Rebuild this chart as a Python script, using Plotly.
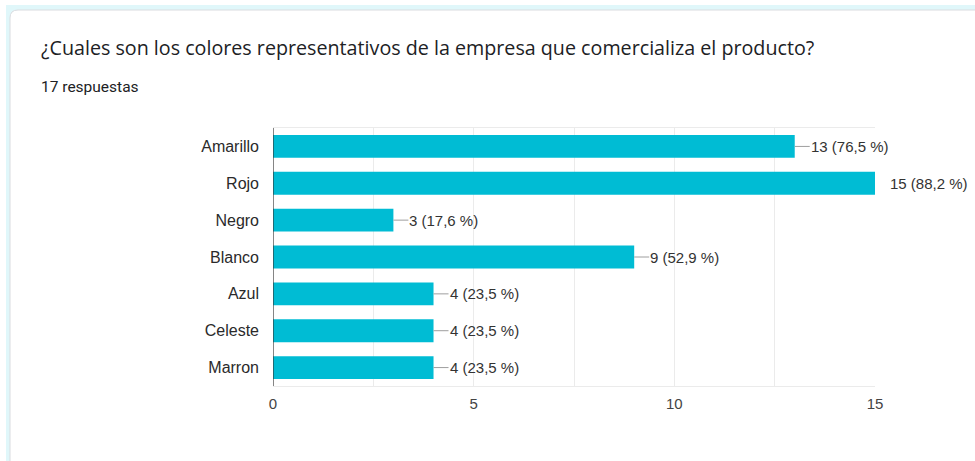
import plotly.graph_objects as go

categories = ["Amarillo", "Rojo", "Negro", "Blanco", "Azul", "Celeste", "Marron"]
counts = [13, 15, 3, 9, 4, 4, 4]
percents = ["76,5", "88,2", "17,6", "52,9", "23,5", "23,5", "23,5"]
title_text = "¿Cuales son los colores representativos de la empresa que comercializa el producto?"
subtitle_text = "17 respuestas"

W, H = 975, 461
L, R, T, B = 273, 875, 128, 386


def px(x):
    return (x - L) / (R - L)


def py(y):
    return (B - y) / (B - T)


fig = go.Figure()
fig.add_trace(go.Bar(
    x=counts, y=categories, orientation="h",
    marker=dict(color="#00bcd4", line=dict(width=0)),
    hoverinfo="skip",
))

label_font = dict(family="Liberation Sans, Arial", size=15, color="#333333")
annotations = []
for c, v, p in zip(categories, counts, percents):
    label = f"{v} ({p} %)"
    if v == max(counts):
        annotations.append(dict(x=v, y=c, xref="x", yref="y", text=label,
                                showarrow=False, xanchor="left", xshift=13,
                                font=label_font))
    else:
        annotations.append(dict(x=v, y=c, xref="x", yref="y", text=label,
                                showarrow=True, arrowhead=0, arrowwidth=1, arrowcolor="#9e9e9e",
                                ax=15, ay=0, xanchor="left", borderpad=0,
                                font=label_font))

annotations.append(dict(xref="paper", yref="paper", x=px(39), y=py(48), text=title_text,
                        showarrow=False, xanchor="left", yanchor="middle",
                        font=dict(family="Open Sans, Roboto, Arial", size=19.7, color="#202124")))
annotations.append(dict(xref="paper", yref="paper", x=px(39), y=py(87), text=subtitle_text,
                        showarrow=False, xanchor="left", yanchor="middle",
                        font=dict(family="Roboto, Arial", size=15.5, color="#202124")))

r = 8
card_path = (f"M {px(10)},{py(470)} L {px(10)},{py(10 + r)} "
             f"Q {px(10)},{py(10)} {px(10 + r)},{py(10)} "
             f"L {px(990)},{py(10)} L {px(990)},{py(470)} Z")
shapes = [
    dict(type="rect", xref="paper", yref="paper", x0=px(6), x1=px(980), y0=py(5), y1=py(470),
         fillcolor="#e0f7fa", line=dict(width=0), layer="below"),
    dict(type="path", xref="paper", yref="paper", path=card_path,
         fillcolor="white", line=dict(color="#dadce0", width=1), layer="below"),
    dict(type="line", xref="x", yref="paper", x0=0, x1=0, y0=0, y1=1,
         line=dict(color="#333333", width=1.2)),
]

fig.update_layout(
    width=W, height=H,
    margin=dict(l=L, r=W - R, t=T, b=H - B),
    paper_bgcolor="white", plot_bgcolor="white",
    bargap=0.38,
    showlegend=False,
    annotations=annotations,
    shapes=shapes,
    font=dict(family="Liberation Sans, Arial", size=15, color="#222222"),
    xaxis=dict(range=[0, 15], dtick=5, tick0=0, showgrid=True, gridcolor="#ebebeb",
               minor=dict(dtick=2.5, showgrid=True, gridcolor="#ebebeb"),
               zeroline=False, showline=True, linecolor="#ebebeb", mirror=True,
               ticks="", ticklabelstandoff=4,
               tickfont=dict(family="Liberation Sans, Arial", size=15, color="#444444"),
               fixedrange=True),
    yaxis=dict(autorange="reversed", showgrid=False, zeroline=False, ticks="",
               ticklabelstandoff=13,
               tickfont=dict(family="Liberation Sans, Arial", size=16, color="#2a2a2a"),
               fixedrange=True),
)

fig.write_html("out.html", config={"displayModeBar": False},
               post_script="document.body.style.margin='0';document.body.style.overflow='hidden';")
